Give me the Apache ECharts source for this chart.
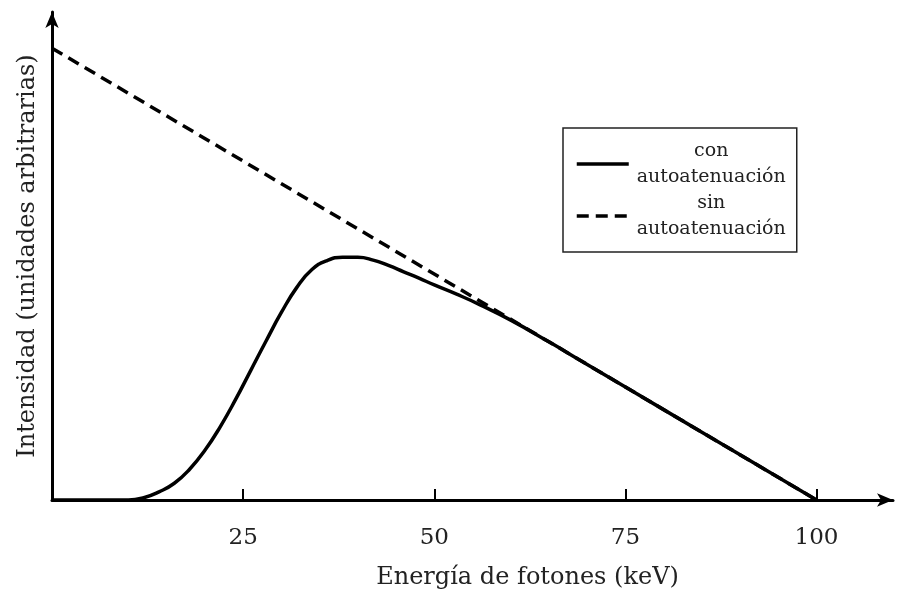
<!DOCTYPE html>
<html>
<head>
<meta charset="utf-8">
<script src="https://cdn.jsdelivr.net/npm/echarts@6/dist/echarts.min.js"></script>
<style>
  html, body { margin: 0; padding: 0; background: #fff; }
  #chart { width: 903px; height: 592px; }
</style>
</head>
<body>
<div id="chart"></div>
<script>
// Photon spectrum: self-attenuated vs. unattenuated intensity (arbitrary units)
const seriesNames = ['con\nautoatenuación', 'sin\nautoatenuación'];

// Energy (keV) / intensity pairs for the self-attenuated spectrum
const conEnergy    = [0, 10, 12, 14, 16, 18, 20, 22, 24, 26, 28, 30, 32, 34, 36, 38, 40, 42, 44, 46, 48, 50, 53, 56, 60, 65, 70, 80, 90, 100];
const conIntensity = [0, 0, 0.005, 0.018, 0.037, 0.068, 0.110, 0.162, 0.222, 0.287, 0.352, 0.415, 0.470, 0.510, 0.530, 0.537, 0.537, 0.531, 0.519, 0.505, 0.491, 0.476, 0.455, 0.432, 0.398, 0.35, 0.30, 0.20, 0.10, 0];

// Unattenuated spectrum: straight fall-off to the maximum energy
const sinEnergy    = [0, 100];
const sinIntensity = [1, 0];

const xTicks = [25, 50, 75, 100];

const FONT = 'DejaVu Serif';
const zip = (xs, ys) => xs.map((x, i) => [x, ys[i]]);

const chart = echarts.init(document.getElementById('chart'), null, { renderer: 'canvas' });

chart.setOption({
  backgroundColor: '#ffffff',
  animation: false,
  grid: { left: 52, right: 10, top: 12, bottom: 92, containLabel: false, outerBoundsMode: 'none' },
  legend: {
    left: 563, top: 128,
    orient: 'vertical',
    padding: [10, 8, 10, 12],
    itemGap: 0,
    itemWidth: 52,
    itemHeight: 14,
    borderColor: '#222',
    borderWidth: 1.5,
    itemStyle: { opacity: 0 },
    lineStyle: { width: 3.5 },
    data: seriesNames,
    formatter: name => name.split('\n').map(s => '{c|' + s + '}').join('\n'),
    textStyle: {
      fontFamily: FONT,
      fontSize: 19,
      lineHeight: 26,
      color: '#222',
      rich: { c: { width: 155, height: 26, align: 'center', fontFamily: FONT, fontSize: 19, lineHeight: 26, color: '#222' } }
    }
  },
  xAxis: {
    type: 'value',
    min: 0, max: 110,
    name: 'Energía de fotones (keV)',
    nameLocation: 'middle',
    nameGap: 66,
    nameTextStyle: { fontFamily: FONT, fontSize: 24, color: '#222', padding: [0, 0, 0, 110] },
    splitLine: { show: false },
    axisLine: { show: true, symbol: ['none', 'arrow'], symbolSize: [10, 16], lineStyle: { color: '#000', width: 3 } },
    axisTick: { show: true, inside: true, length: 11, customValues: xTicks, lineStyle: { color: '#000', width: 2 } },
    axisLabel: { customValues: xTicks, margin: 27, fontFamily: FONT, fontSize: 23, color: '#222' }
  },
  yAxis: {
    type: 'value',
    min: 0, max: 1.08,
    name: 'Intensidad (unidades arbitrarias)',
    nameLocation: 'middle',
    nameGap: 12,
    nameTextStyle: { fontFamily: FONT, fontSize: 24, color: '#222' },
    splitLine: { show: false },
    axisLine: { show: true, symbol: ['none', 'arrow'], symbolSize: [10, 16], lineStyle: { color: '#000', width: 3 } },
    axisTick: { show: false },
    axisLabel: { show: false }
  },
  series: [
    {
      name: seriesNames[1],
      type: 'line',
      data: zip(sinEnergy, sinIntensity),
      showSymbol: false,
      symbol: 'none',
      z: 2,
      lineStyle: { color: '#000', width: 3.5, type: [12, 7] },
      itemStyle: { color: '#000' }
    },
    {
      name: seriesNames[0],
      type: 'line',
      data: zip(conEnergy, conIntensity),
      smooth: 0.5,
      showSymbol: false,
      symbol: 'none',
      z: 3,
      lineStyle: { color: '#000', width: 3.5 },
      itemStyle: { color: '#000' }
    }
  ]
});
</script>
</body>
</html>
